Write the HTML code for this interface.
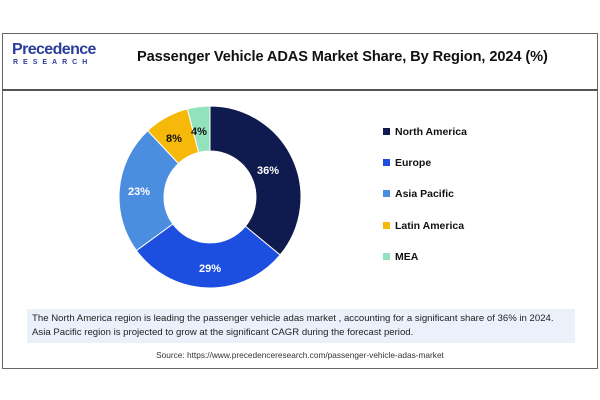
<!DOCTYPE html>
<html><head><meta charset="utf-8"><style>
body{margin:0;width:600px;height:400px;background:#fff;font-family:"Liberation Sans",sans-serif;position:relative;overflow:hidden}
.frame{position:absolute;left:2px;top:33px;width:594px;height:334px;border:1px solid #666}
.hdr{position:absolute;left:2px;top:89px;width:596px;height:2px;background:#555}
.title{position:absolute;left:137px;top:49px;font-size:14.6px;font-weight:bold;color:#111;letter-spacing:-0.1px}
.logo1{position:absolute;left:12px;top:41px;font-size:16px;color:#2a3d9a;font-weight:bold;letter-spacing:-0.6px}
.logo2{position:absolute;left:13px;top:59px;font-size:7px;color:#2a3d9a;font-weight:bold;letter-spacing:5px}
.note{position:absolute;left:27px;top:309px;width:548px;height:34px;background:#eaf1fb}
.note div{position:absolute;left:5px;font-size:9.6px;color:#222;white-space:nowrap}
.src{position:absolute;left:0;width:600px;top:350px;text-align:center;font-size:8.3px;color:#333}
.leg{position:absolute;left:383px;font-size:10.5px;font-weight:bold;color:#111}
.leg span{display:inline-block;width:7px;height:7px;margin-right:5px}
</style></head><body>
<div class="frame"></div><div class="hdr"></div>
<div class="logo1">Precedence</div><div class="logo2">RESEARCH</div>
<div class="title">Passenger Vehicle ADAS Market Share, By Region, 2024 (%)</div>
<svg width="600" height="400" style="position:absolute;left:0;top:0">
<g stroke="#fff" stroke-width="1">
<path d="M210,106 A91,91 0 0 1 280.1,255 L245.4,226.3 A46,46 0 0 0 210,151Z" fill="#0f1a4e"/>
<path d="M280.1,255 A91,91 0 0 1 136.4,250.5 L172.8,224 A46,46 0 0 0 245.4,226.3Z" fill="#1c4fe0"/>
<path d="M136.4,250.5 A91,91 0 0 1 147.7,130.7 L178.5,163.5 A46,46 0 0 0 172.8,224Z" fill="#4b8ddf"/>
<path d="M147.7,130.7 A91,91 0 0 1 187.4,108.9 L198.6,152.4 A46,46 0 0 0 178.5,163.5Z" fill="#f6b90a"/>
<path d="M187.4,108.9 A91,91 0 0 1 210,106 L210,151 A46,46 0 0 0 198.6,152.4Z" fill="#92e2bd"/>
</g>
<g font-family="Liberation Sans" font-weight="bold" font-size="11" text-anchor="middle">
<text x="268" y="174" fill="#fff">36%</text>
<text x="210" y="272" fill="#fff">29%</text>
<text x="139" y="195" fill="#fff">23%</text>
<text x="174" y="142" fill="#111">8%</text>
<text x="199" y="135" fill="#111">4%</text>
</g></svg>
<div class="leg" style="top:126px"><span style="background:#0f1a4e"></span>North America</div>
<div class="leg" style="top:157px"><span style="background:#1c4fe0"></span>Europe</div>
<div class="leg" style="top:188px"><span style="background:#4b8ddf"></span>Asia Pacific</div>
<div class="leg" style="top:220px"><span style="background:#f6b90a"></span>Latin America</div>
<div class="leg" style="top:251px"><span style="background:#92e2bd"></span>MEA</div>
<div class="note"><div style="top:4px">The North America region is leading the passenger vehicle adas market , accounting for a significant share of 36% in 2024.</div><div style="top:18px">Asia Pacific region is projected to grow at the significant CAGR during the forecast period.</div></div>
<div class="src">Source: https://www.precedenceresearch.com/passenger-vehicle-adas-market</div>
</body></html>
